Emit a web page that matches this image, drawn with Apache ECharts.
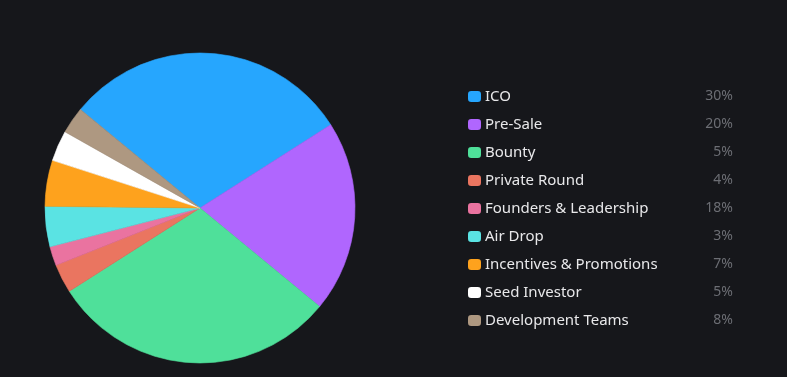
<!DOCTYPE html>
<html>
<head>
<meta charset="utf-8">
<script src="https://cdn.jsdelivr.net/npm/echarts@6/dist/echarts.min.js"></script>
<style>
  html, body { margin: 0; padding: 0; background: #16171b; }
  #chart { width: 787px; height: 377px; }
</style>
</head>
<body>
<div id="chart"></div>
<script>
// categories, slice values and legend percentage labels
const categories = ['ICO', 'Pre-Sale', 'Bounty', 'Private Round', 'Founders & Leadership',
  'Air Drop', 'Incentives & Promotions', 'Seed Investor', 'Development Teams'];
const sliceValues = [30, 20, 30, 3, 2, 4.2, 4.8, 3.2, 2.8];
const legendPercents = ['30%', '20%', '5%', '4%', '18%', '3%', '7%', '5%', '8%'];
const colors = ['#26a6fe', '#b066fe', '#4fe09a', '#ea7560', '#ea73a0',
  '#5ae3e3', '#fea21d', '#ffffff', '#ae9881'];

const chart = echarts.init(document.getElementById('chart'));

const option = {
  backgroundColor: '#16171b',
  color: colors,
  animation: false,
  legend: {
    orient: 'vertical',
    left: 463,
    top: 84,
    itemWidth: 11,
    itemHeight: 9,
    itemGap: 13,
    icon: 'roundRect',
    data: categories,
    formatter: name => {
      const i = categories.indexOf(name);
      return '{name|' + name + '}{pct|' + legendPercents[i] + '}';
    },
    textStyle: {
      rich: {
        name: {
          color: '#e8e8ea',
          fontSize: 15,
          fontFamily: 'Noto Sans',
          width: 212,
          lineHeight: 18
        },
        pct: {
          color: '#6c6e74',
          fontSize: 14,
          fontFamily: 'Noto Sans',
          width: 36,
          align: 'right',
          lineHeight: 18
        }
      }
    }
  },
  series: [
    {
      type: 'pie',
      center: [200, 208],
      radius: 155,
      startAngle: 140.5,
      label: { show: false },
      labelLine: { show: false },
      emphasis: { disabled: true },
      // border in the slice's own colour hides the dark seams between slices
      data: categories.map((name, i) => ({
        name,
        value: sliceValues[i],
        itemStyle: { borderColor: colors[i], borderWidth: 0.6 }
      }))
    }
  ]
};

chart.setOption(option);
</script>
</body>
</html>
